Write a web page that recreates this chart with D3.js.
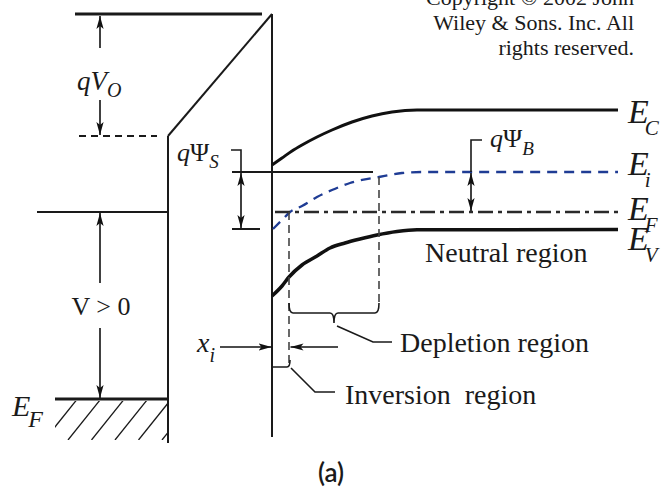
<!DOCTYPE html>
<html>
<head>
<meta charset="utf-8">
<script src="https://cdn.jsdelivr.net/npm/d3@7"></script>
<style>
body { margin: 0; background: #fff; }
text { font-family: "Liberation Serif", "Times New Roman", serif; fill: #1a1a1a; }
</style>
</head>
<body>
<svg width="662" height="489"></svg>
<script>
// band edges in the semiconductor, [position, energy]
var ecPoints = [[0,0.47],[1,0.54],[2,0.61],[3,0.67],[4.5,0.75],[6,0.82],[8,0.90],[10,0.96],[12,1.00],[14.5,1.02],[34.6,1.02]];
var eiPoints = [[0.1,-0.17],[1,-0.08],[1.8,0],[3,0.06],[4.5,0.15],[6,0.22],[7.8,0.29],[10.7,0.35],[13,0.39],[15,0.40],[34.6,0.40]];
var evPoints = [[0,-0.84],[1,-0.74],[1.7,-0.65],[3,-0.53],[4.5,-0.44],[5.8,-0.36],[7.3,-0.31],[8.8,-0.27],[10.5,-0.23],[12.5,-0.195],[14.5,-0.178],[34.6,-0.175]];

// levels (energy) and boundaries (position)
var levelTop = 1.98, levelKnee = 0.76, levelGate = 0, levelMetalEf = -1.87;
var eiBulk = 0.40, eiSurf = -0.17, efSemi = 0;
var xOxide = -10.4, xInterface = 0, xInversion = 1.7, xDepletion = 10.7, xEnd = 34.6;
var hatchStarts = [-22.75, -20.4, -18.05, -15.7, -13.35, -11.0];

var bandSubs = ["C", "i", "F", "V"];
var regionNames = ["Neutral region", "Depletion region", "Inversion\u2002region"];
var copyrightLines = ["Copyright \u00A9 2002 John", "Wiley & Sons. Inc. All", "rights reserved."];

var svg = d3.select("svg");
var x = d3.scaleLinear().domain([-27.2, 39.0]).range([0, 662]);
var y = d3.scaleLinear().domain([-2.77, 2.12]).range([489, 0]);

var defs = svg.append("defs");
defs.append("marker")
	.attr("id", "head")
	.attr("viewBox", "0 -5 14 10")
	.attr("refX", 13).attr("refY", 0)
	.attr("markerWidth", 14).attr("markerHeight", 10)
	.attr("markerUnits", "userSpaceOnUse")
	.attr("orient", "auto-start-reverse")
	.append("path")
	.attr("d", "M0,-3.6L13,0L0,3.6L3,0Z")
	.attr("fill", "#111");

defs.append("clipPath").attr("id", "hatchClip")
	.append("rect")
	.attr("x", x(-21.7)).attr("y", y(-1.89))
	.attr("width", x(xOxide) - x(-21.7))
	.attr("height", y(-2.28) - y(-1.89));

function seg(x1, e1, x2, e2, w, color, dash){
	var l = svg.append("line")
		.attr("x1", x(x1)).attr("y1", y(e1))
		.attr("x2", x(x2)).attr("y2", y(e2))
		.attr("stroke", color || "#1a1a1a")
		.attr("stroke-width", w || 2);
	if (dash) l.attr("stroke-dasharray", dash);
	return l;
}

function arrow(x1, e1, x2, e2, both){
	var l = seg(x1, e1, x2, e2, 1.6, "#111").attr("marker-end", "url(#head)");
	if (both) l.attr("marker-start", "url(#head)");
}

// text with optional subscript, parts: [string, italic]
function label(px, py, parts, size, sub, subSize, subDy, subDx){
	var t = svg.append("text").attr("x", px).attr("y", py).attr("font-size", size);
	parts.forEach(function(p){
		t.append("tspan").text(p[0]).attr("font-style", p[1] ? "italic" : "normal");
	});
	if (sub){
		t.append("tspan").text(sub)
			.attr("font-style", "italic")
			.attr("font-size", subSize)
			.attr("dx", subDx || 0)
			.attr("dy", subDy);
	}
	return t;
}

var bandLine = d3.line()
	.x(function(d){ return x(d[0]); })
	.y(function(d){ return y(d[1]); })
	.curve(d3.curveMonotoneX);

/* metal and oxide */
seg(-19.7, levelTop, -1.0, levelTop, 3);
seg(xOxide, levelKnee, xInterface, levelTop, 2);
seg(xOxide, levelKnee, xOxide, -2.31, 2);
seg(xInterface, levelTop, xInterface, -2.25, 2);
seg(-19.3, levelKnee, -11.5, levelKnee, 2, "#1a1a1a", "7,5");
seg(-23.5, levelGate, xOxide, levelGate, 2);
seg(-21.7, levelMetalEf, xOxide, levelMetalEf, 3.2);

svg.append("g").attr("clip-path", "url(#hatchClip)")
	.selectAll("line").data(hatchStarts).enter().append("line")
	.attr("x1", function(d){ return x(d); }).attr("y1", y(-2.28))
	.attr("x2", function(d){ return x(d + 3.2); }).attr("y2", y(-1.88))
	.attr("stroke", "#1a1a1a").attr("stroke-width", 1.3);

// qVo and V>0 arrows
arrow(-17.2, 1.64, -17.2, levelTop - 0.02);
arrow(-17.2, 1.12, -17.2, levelKnee + 0.01);
arrow(-17.2, -0.71, -17.2, levelGate - 0.01);
arrow(-17.2, -1.16, -17.2, levelMetalEf + 0.01);

/* semiconductor */
seg(-4.0, eiBulk, 10.1, eiBulk, 2);
seg(-4.0, eiSurf, -1.2, eiSurf, 2);
svg.append("path")
	.attr("d", "M" + x(-4.1) + "," + y(0.62) + "H" + x(-3.1) + "V" + y(eiBulk))
	.attr("fill", "none").attr("stroke", "#1a1a1a").attr("stroke-width", 1.6);
arrow(-3.1, eiBulk - 0.01, -3.1, eiSurf + 0.01, true);

svg.append("path")
	.attr("d", bandLine(eiPoints))
	.attr("fill", "none").attr("stroke", "#1f3c94").attr("stroke-width", 2.3)
	.attr("stroke-dasharray", "10,7");
seg(0.3, efSemi, xEnd, efSemi, 2.3, "#2a2a2a", "15,5,4,5");
svg.selectAll("path.band").data([ecPoints, evPoints]).enter().append("path")
	.attr("class", "band")
	.attr("d", bandLine)
	.attr("fill", "none").attr("stroke", "#111")
	.attr("stroke-width", function(d, i){ return i ? 3.5 : 3; });

// qψB bracket
svg.append("path")
	.attr("d", "M" + x(21.0) + "," + y(0.72) + "H" + x(19.9) + "V" + y(eiBulk))
	.attr("fill", "none").attr("stroke", "#1a1a1a").attr("stroke-width", 1.6);
arrow(19.9, eiBulk - 0.01, 19.9, efSemi + 0.01, true);

// region boundaries
seg(xInversion, efSemi, xInversion, -1.51, 1.6, "#444", "8,5");
seg(xDepletion, 0.35, xDepletion, -0.91, 1.6, "#444", "8,5");

// depletion brace
var bTop = -0.91, bMid = -1.01, bTip = -1.11, xMid = (xInversion + xDepletion) / 2;
svg.append("path")
	.attr("d", "M" + x(xInversion) + "," + y(bTop)
		+ "Q" + x(xInversion) + "," + y(bMid) + " " + x(xInversion + 0.4) + "," + y(bMid)
		+ "H" + x(xMid - 0.4)
		+ "Q" + x(xMid) + "," + y(bMid) + " " + x(xMid) + "," + y(bTip)
		+ "Q" + x(xMid) + "," + y(bMid) + " " + x(xMid + 0.4) + "," + y(bMid)
		+ "H" + x(xDepletion - 0.4)
		+ "Q" + x(xDepletion) + "," + y(bMid) + " " + x(xDepletion) + "," + y(bTop))
	.attr("fill", "none").attr("stroke", "#1a1a1a").attr("stroke-width", 1.6);
svg.append("path")
	.attr("d", "M" + x(xMid + 0.3) + "," + y(-1.14) + "L" + x(10.1) + "," + y(-1.30) + "H" + x(12.0))
	.attr("fill", "none").attr("stroke", "#1a1a1a").attr("stroke-width", 1.6);

// inversion bracket
svg.append("path")
	.attr("d", "M" + x(xInterface) + "," + y(-1.55) + "H" + x(xInversion - 0.2)
		+ "Q" + x(xInversion + 0.1) + "," + y(-1.55) + " " + x(xInversion + 0.1) + "," + y(-1.48))
	.attr("fill", "none").attr("stroke", "#1a1a1a").attr("stroke-width", 1.6);
svg.append("path")
	.attr("d", "M" + x(xInversion + 0.2) + "," + y(-1.56) + "L" + x(4.3) + "," + y(-1.80) + "H" + x(6.3))
	.attr("fill", "none").attr("stroke", "#1a1a1a").attr("stroke-width", 1.6);

// xi arrows
arrow(-5.2, -1.35, xInterface - 0.05, -1.35);
arrow(6.6, -1.35, xInversion + 0.15, -1.35);

/* labels */
label(x(-19.5), y(1.22), [["qV", true]], 27, "O", 20, 7);
label(x(-9.5), y(0.51), [["q", true], ["\u03A8", false]], 26, "S", 19, 7);
label(x(21.8), y(0.65), [["q", true], ["\u03A8", false]], 26, "B", 19, 8);
svg.append("text").attr("x", x(-17.1)).attr("y", y(-1.03))
	.attr("font-size", 26).attr("text-anchor", "middle").text("V > 0");
label(x(-7.5), y(-1.40), [["x", true]], 28, "i", 20, 10);
label(x(-26.0), y(-2.04), [["E", true]], 30, "F", 24, 11, -2);

var bandE = [0.89, 0.37, -0.08, -0.38];
bandSubs.forEach(function(s, i){
	label(x(35.6), y(bandE[i]), [["E", true]], 34, s, 21, 12, -4);
});

svg.append("text").attr("x", x(15.3)).attr("y", y(-0.50)).attr("font-size", 28).text(regionNames[0]);
svg.append("text").attr("x", x(12.8)).attr("y", y(-1.40)).attr("font-size", 28).text(regionNames[1]);
svg.append("text").attr("x", x(7.3)).attr("y", y(-1.92)).attr("font-size", 28).text(regionNames[2]);

svg.selectAll("text.copy").data(copyrightLines).enter().append("text")
	.attr("class", "copy")
	.attr("x", 634).attr("y", function(d, i){ return 5 + i * 25; })
	.attr("text-anchor", "end").attr("font-size", 22)
	.text(function(d){ return d; });

svg.append("text").attr("x", x(5.9)).attr("y", 482)
	.attr("text-anchor", "middle").attr("font-size", 26)
	.style("font-family", "Lato, 'Open Sans', sans-serif").style("font-weight", 600)
	.text("(a)");
</script>
</body>
</html>
